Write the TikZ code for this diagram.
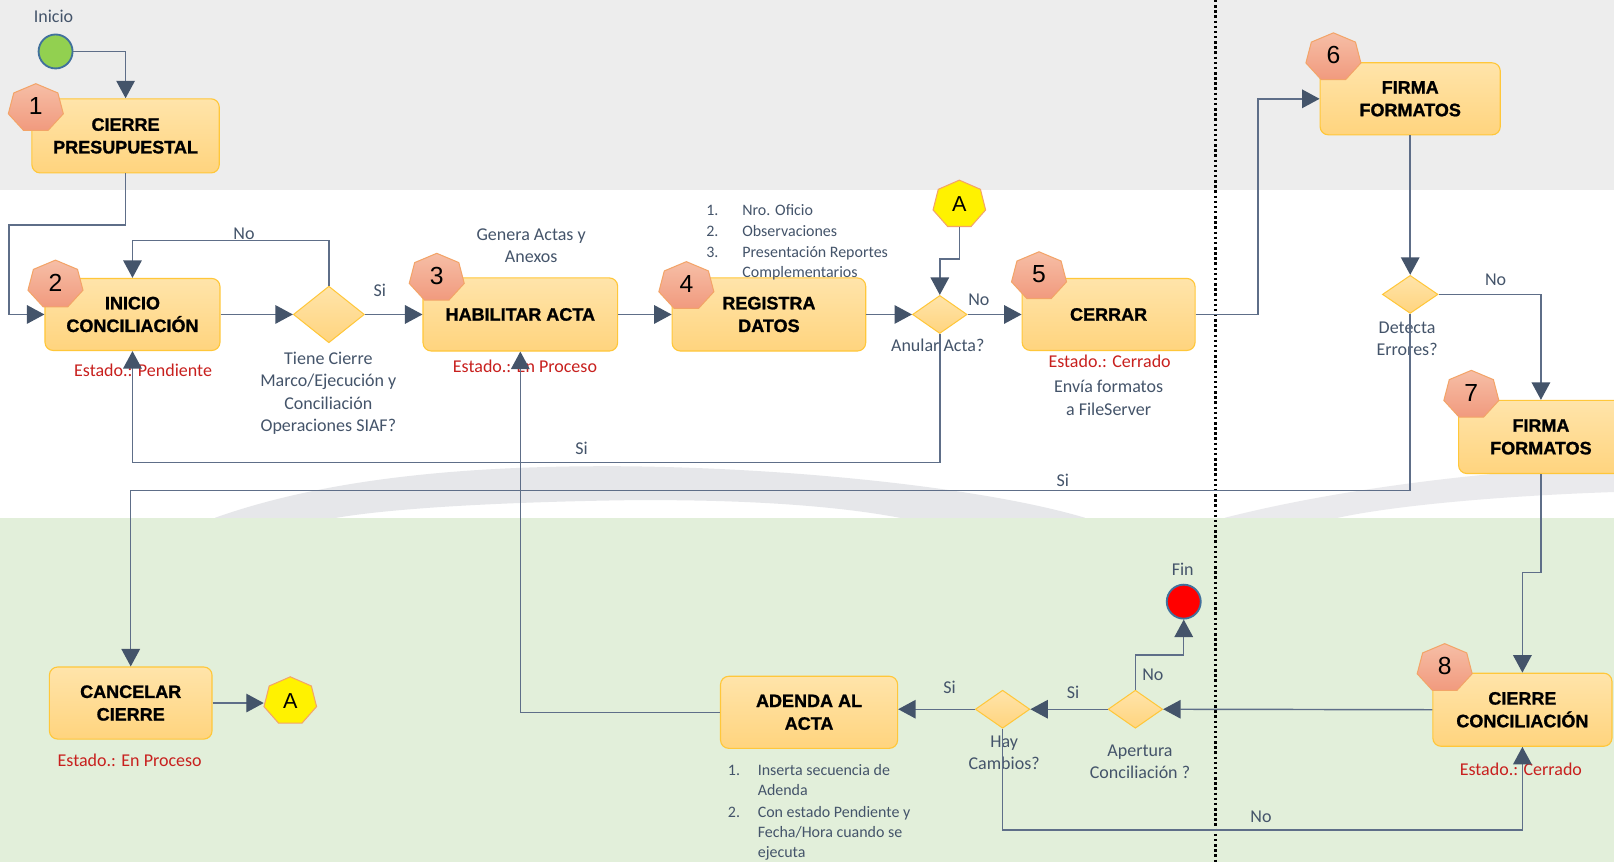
\documentclass[tikz,border=0pt]{standalone}
\usepackage{fontspec}
\setmainfont{Carlito}
\newfontfamily\arialf{Liberation Sans}[BoldFeatures={FakeBold=1.2}]
\usetikzlibrary{arrows.meta,shapes.geometric}
\definecolor{grayband}{HTML}{EDEDED}
\definecolor{greenband}{HTML}{E2EFDA}
\definecolor{boxtop}{HTML}{FFE4AA}
\definecolor{boxbot}{HTML}{FFD47E}
\definecolor{boxline}{HTML}{FFC73A}
\definecolor{badgetop}{HTML}{F6BEA6}
\definecolor{badgebot}{HTML}{F19A7E}
\definecolor{badgeline}{HTML}{F3A468}
\definecolor{linecol}{HTML}{5E6E88}
\definecolor{arrowcol}{HTML}{44546A}
\definecolor{txtcol}{HTML}{44546A}
\definecolor{redtxt}{HTML}{C8201E}
\definecolor{swooshcol}{HTML}{D6D7DC}
\definecolor{startgreen}{HTML}{92D050}
\definecolor{circleline}{HTML}{41719C}

\newcommand\heptshape[5]{\path[#5, shift={(#1,#2)}] plot[samples at={90,141.4286,192.8571,244.2857,295.7143,347.1429,398.5714}] ({#3*cos(\x)},{-#4*sin(\x)}) -- cycle;}
\newcommand\badge[4]{\heptshape{#2}{#3}{27.4}{23.9}{badgesh}\node[badgetxt] (#1) at (#2,#3) {#4};}
\newcommand\conA[3]{\heptshape{#2}{#3}{26.2}{23.7}{ash}\node[atxt] (#1) at (#2,#3) {A};}

\begin{document}
\begin{tikzpicture}[x=1pt,y=-1pt,
  box/.style={rectangle, rounded corners=8pt, draw=boxline, line width=1.1pt,
    top color=boxtop, bottom color=boxbot, inner sep=0pt, align=center,
    font={\arialf\bfseries\fontsize{17.5}{22}\selectfont}, text=black},
  dia/.style={diamond, draw=boxline, line width=1pt, top color=boxtop,
    bottom color=boxbot, inner sep=0pt},
  badgesh/.style={draw=badgeline, line width=1pt, top color=badgetop, bottom color=badgebot},
  ash/.style={draw=badgeline, line width=1pt, fill=yellow},
  badgetxt/.style={font={\arialf\fontsize{24}{28}\selectfont}, text=black, inner sep=0pt, yshift=2pt},
  atxt/.style={font={\arialf\fontsize{21}{24}\selectfont}, text=black, inner sep=0pt,
    minimum width=51.1pt, minimum height=42.7pt},
  conn/.style={draw=linecol, line width=1.4pt, -{Triangle[length=17pt,width=18pt,color=arrowcol]}},
  lbl/.style={font={\fontsize{17.5}{21.5}\selectfont}, text=txtcol, align=center, inner sep=0pt},
  redlbl/.style={lbl, text=redtxt},
  small/.style={font={\fontsize{15.5}{20}\selectfont}, text=txtcol, inner sep=0pt, anchor=west,
    text height=11pt, text depth=3.5pt, yshift=-2pt},
  endpt/.style={circle, draw=circleline, line width=1.8pt, minimum size=33pt, inner sep=0pt}
]
\useasboundingbox (0,0) rectangle (1568,837.4);
\clip (0,0) rectangle (1568,837.4);

% background bands
\fill[white] (0,0) rectangle (1568,837.4);
\fill[grayband] (0,0) rectangle (1568,185);
\fill[swooshcol, opacity=0.6] (209,503) .. controls (330,460) and (480,452) .. (610,453)
   .. controls (780,455) and (960,475) .. (1054,503) -- (874,503)
   .. controls (800,489) and (700,485) .. (605,486)
   .. controls (480,488) and (380,494) .. (327,503) -- cycle;
\fill[swooshcol, opacity=0.5] (1190,503) .. controls (1300,475) and (1440,458) .. (1568,452)
   -- (1568,478) .. controls (1450,482) and (1350,492) .. (1300,503) -- cycle;
\fill[greenband] (0,503) rectangle (1568,837.4);

% lane divider
\draw[black, line width=2.6pt, dash pattern=on 2.4pt off 2.6pt] (1181,0) -- (1181,837.4);

% events
\node[endpt, fill=startgreen] (start) at (54,50) {};
\node[lbl] (tinicio) at (52,16) {Inicio};
\node[endpt, fill=red] (fin) at (1150,584.5) {};
\node[lbl] (tfin) at (1149,553) {Fin};

% tasks
\node[box, minimum width=182pt, minimum height=72pt] (b1) at (122,132) {CIERRE\\PRESUPUESTAL};
\node[box, minimum width=170pt, minimum height=70pt] (b2) at (128.7,305.5) {INICIO\\CONCILIACIÓN};
\node[box, minimum width=189pt, minimum height=71pt] (b3) at (505.5,305.5) {HABILITAR ACTA};
\node[box, minimum width=188pt, minimum height=71pt] (b4) at (747,305.5) {REGISTRA\\DATOS};
\node[box, minimum width=168pt, minimum height=70pt] (b5) at (1077,305.5) {CERRAR};
\node[box, minimum width=175pt, minimum height=70pt] (b6) at (1370,96) {FIRMA\\FORMATOS};
\node[box, minimum width=160pt, minimum height=71pt] (b7) at (1497,424.5) {FIRMA\\FORMATOS};
\node[box, minimum width=174pt, minimum height=71pt] (b8) at (1479,689.5) {CIERRE\\CONCILIACIÓN};
\node[box, minimum width=172pt, minimum height=70pt] (ad) at (786,692) {ADENDA AL\\ACTA};
\node[box, minimum width=158pt, minimum height=70pt] (can) at (127,683) {CANCELAR\\CIERRE};

% gateways
\node[dia, minimum width=69pt, minimum height=55pt] (d1) at (319.5,305.5) {};
\node[dia, minimum width=53pt, minimum height=37pt] (d2) at (913,305.5) {};
\node[dia, minimum width=54pt, minimum height=37pt] (d3) at (1370,286) {};
\node[dia, minimum width=53pt, minimum height=37pt] (d4) at (1103,689) {};
\node[dia, minimum width=53pt, minimum height=37pt] (d5) at (974,689) {};

% badges
\badge{n1}{34.8}{105.2}{1}
\badge{n2}{53.9}{276.6}{2}
\badge{n3}{424.3}{270}{3}
\badge{n4}{666.8}{278.1}{4}
\badge{n5}{1009.4}{268.5}{5}
\badge{n6}{1295.4}{55.8}{6}
\badge{n7}{1429.4}{383.7}{7}
\badge{n8}{1403.5}{649.2}{8}

% connectors A
\conA{topA}{932}{198.7}
\conA{botA}{282}{681.2}

% annotations
\node[lbl] (q1) at (319,382) {Tiene Cierre\\Marco/Ejecución y\\Conciliación\\Operaciones SIAF?};
\node[redlbl] (e2) at (139,360) {Estado.: Pendiente};
\node[lbl] (g3) at (516,239) {Genera Actas y\\Anexos};
\node[redlbl] (e3) at (510,355.5) {Estado.: En Proceso};
\node[small] (l1n) at (686,204) {1.};
\node[small] (l1t) at (721,204) {Nro. Oficio};
\node[small] (l2n) at (686,224) {2.};
\node[small] (l2t) at (721,224) {Observaciones};
\node[small] (l3n) at (686,244) {3.};
\node[small] (l3t) at (721,244) {Presentación Reportes};
\node[small] (l3u) at (721,263.5) {Complementarios};
\node[lbl] (q2) at (911,335.5) {Anular Acta?};
\node[redlbl] (e5) at (1078,351.5) {Estado.: Cerrado};
\node[lbl] (f5) at (1077,386.5) {Envía formatos\\a FileServer};
\node[lbl] (q3) at (1367,329) {Detecta\\Errores?};
\node[redlbl] (e8) at (1477.5,747) {Estado.: Cerrado};
\node[lbl] (q4) at (1107.5,740) {Apertura\\Conciliación ?};
\node[lbl] (q5) at (975.5,731) {Hay\\Cambios?};
\node[redlbl] (ec) at (126,738.5) {Estado.: En Proceso};
\node[small] (a1n) at (707,748) {1.};
\node[small] (a1t) at (736,748) {Inserta secuencia de};
\node[small] (a1u) at (736,767.5) {Adenda};
\node[small] (a2n) at (707,788) {2.};
\node[small] (a2t) at (736,788) {Con estado Pendiente y};
\node[small] (a2u) at (736,807.5) {Fecha/Hora cuando se};
\node[small] (a2v) at (736,827.4) {ejecuta};

% flow
\coordinate (k0) at (8.7,218.6);
\coordinate (c1) at (319.5,233.8);
\coordinate (k1) at (932,251.5);
\coordinate (k2) at (913,449.5);
\coordinate (k3) at (1222,305.5);
\coordinate (k4) at (1370,476.7);
\coordinate (k5) at (1497,556);
\coordinate (k6) at (1103,636.5);
\coordinate (k7) at (974,806.3);

\draw[conn] (start.east) -| (b1.north);
\draw[conn] (b1.south) |- (k0) |- (b2.west);
\draw[conn] (b2.east) -- (d1.west);
\draw[conn] (d1.north) -- (c1) -| (b2.north);
\draw[conn] (d1.east) -- (b3.west);
\draw[conn] (b3.east) -- (b4.west);
\draw[conn] (b4.east) -- (d2.west);
\draw[conn] (topA.south) -- (k1) -| (d2.north);
\draw[conn] (d2.east) -- (b5.west);
\draw[conn] (d2.south) -- (k2) -| (b2.south);
\draw[conn] (b5.east) -- (k3) |- (b6.west);
\draw[conn] (b6.south) -- (d3.north);
\draw[conn] (d3.east) -| (b7.north);
\draw[conn] (d3.south) -- (k4) -| (can.north);
\draw[conn] (b7.south) -- (k5) -| (b8.north);
\draw[conn] (b8.west) -- (d4.east);
\draw[conn] (d4.north) -- (k6) -| (fin.south);
\draw[conn] (d4.west) -- (d5.east);
\draw[conn] (d5.west) -- (d5.west -| ad.east);
\draw[conn] (d5.south) -- (k7) -| (b8.south);
\draw[conn] (ad.west) -| (b3.south);
\draw[conn] (can.east) -- (can.east -| botA.west);

% branch labels
\node[lbl] (no1) at (237,227) {No};
\node[lbl] (si1) at (369,282) {Si};
\node[lbl] (no2) at (951,291.5) {No};
\node[lbl] (si2) at (565,435.5) {Si};
\node[lbl] (no3) at (1453,272) {No};
\node[lbl] (si3) at (1032.5,467) {Si};
\node[lbl] (no4) at (1120,656) {No};
\node[lbl] (si4) at (1042.5,673) {Si};
\node[lbl] (si5) at (922.5,667.5) {Si};
\node[lbl] (no5) at (1225,793.4) {No};
\end{tikzpicture}
\end{document}
